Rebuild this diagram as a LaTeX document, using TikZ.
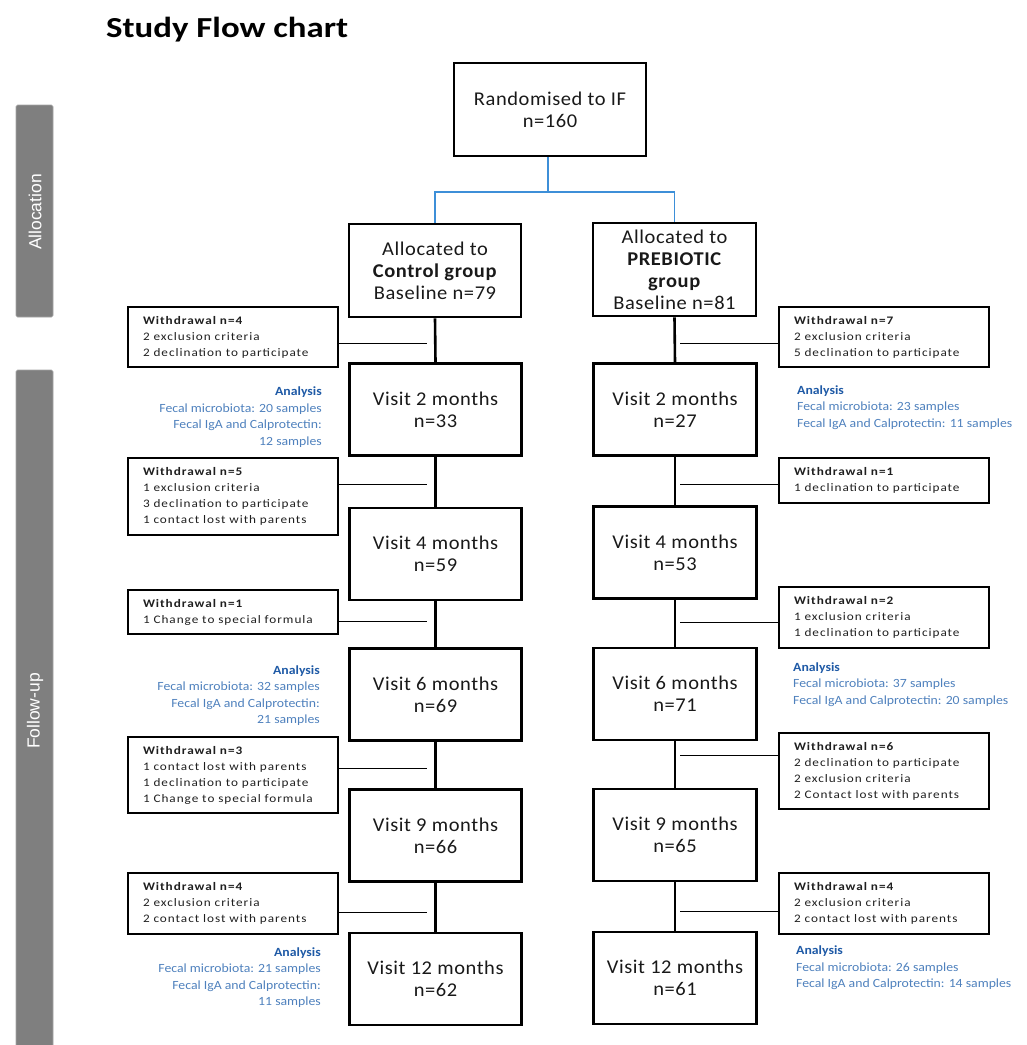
\documentclass[tikz,border=0pt]{standalone}
\usepackage{fontspec}
\setmainfont{Carlito}
\newfontfamily\titlefont[FakeStretch=1.2]{Carlito}
\newfontfamily\wfont[FakeStretch=1.15,LetterSpace=8.5]{Carlito}
\newfontfamily\mfont[FakeStretch=1.05,LetterSpace=3]{Carlito}
\newfontfamily\afont[FakeStretch=1.1]{Carlito}
\newfontfamily\sidefont{Liberation Sans}
\definecolor{sidegray}{HTML}{7F7F7F}
\definecolor{anahead}{HTML}{1F5AA6}
\definecolor{anabody}{HTML}{4F81BD}
\definecolor{linkblue}{HTML}{3D8FD8}
\begin{document}
\begin{tikzpicture}[x=1pt,y=-1pt,
  mainbox/.style={draw=black, line width=2.6pt, align=center, inner sep=0pt,
    font=\mfont\fontsize{19.5}{22}\selectfont, text=black!90},
  visitc/.style={mainbox, minimum width=172pt, minimum height=92pt},
  visitp/.style={mainbox, minimum width=163pt, minimum height=92pt},
  wbox/.style={draw=black, line width=1.1pt, align=left, inner xsep=0pt, inner ysep=0pt,
    minimum width=210pt, text width=180pt,
    font=\wfont\fontsize{11.5}{16}\selectfont, text=black!88},
  anac/.style={align=right, anchor=east, inner sep=0pt, text=anabody,
    font=\afont\fontsize{12.5}{16.5}\selectfont},
  anap/.style={align=left, anchor=west, inner sep=0pt, text=anabody,
    font=\afont\fontsize{12.5}{16.5}\selectfont},
  sidebar/.style={fill=sidegray, draw=sidegray!70, line width=0.6pt, rounded corners=1.5pt},
  sidetext/.style={text=white, rotate=90, font=\sidefont\fontsize{17.5}{20}\selectfont},
  trunk/.style={line width=2.6pt, black},
  twig/.style={line width=0.9pt, black},
  bluelink/.style={line width=1.3pt, linkblue}
]
\useasboundingbox (0,0) rectangle (1027,1045);

% title
\node[anchor=base west, inner sep=0pt, font=\titlefont\bfseries\fontsize{29}{34}\selectfont] (title) at (106,37) {Study Flow chart};

% side bars
\draw[sidebar] (16,105) rectangle (53,317);
\node[sidetext] (alloc) at (35,212) {Allocation};
\draw[sidebar] (16,370) rectangle (53,1050);
\node[sidetext] (follow) at (35,711) {Follow-up};

% top
\node[mainbox, minimum width=192pt, minimum height=93pt] (rand) at (550,109.5) {Randomised to IF\\n=160};
\node[mainbox, minimum width=172pt, minimum height=93pt] (ctrl) at (435,270.5) {Allocated to\\\textbf{Control group}\\Baseline n=79};
\node[mainbox, minimum width=163pt, minimum height=93pt] (preb) at (674.5,269.5) {Allocated to\\\textbf{PREBIOTIC}\\\textbf{group}\\Baseline n=81};

\coordinate (split) at (548,192);
\draw[bluelink] (rand.south -| split) -- (split) -| (ctrl.north);
\draw[bluelink] (split) -| (preb.north);

% control visits
\node[visitc] (cv2) at (435.5,409.5) {Visit 2 months\\n=33};
\node[visitc] (cv4) at (435.5,554) {Visit 4 months\\n=59};
\node[visitc] (cv6) at (435.5,694.5) {Visit 6 months\\n=69};
\node[visitc] (cv9) at (435.5,835.5) {Visit 9 months\\n=66};
\node[visitc] (cv12) at (435.5,979) {Visit 12 months\\n=62};

% prebiotic visits
\node[visitp] (pv2) at (675,409.5) {Visit 2 months\\n=27};
\node[visitp] (pv4) at (675,552.5) {Visit 4 months\\n=53};
\node[visitp] (pv6) at (675,694) {Visit 6 months\\n=71};
\node[visitp] (pv9) at (675,835) {Visit 9 months\\n=65};
\node[visitp] (pv12) at (675,978) {Visit 12 months\\n=61};

% trunks
\draw[trunk] (ctrl.south) -- (cv2.north);
\draw[trunk] (cv2.south) -- (cv4.north);
\draw[trunk] (cv4.south) -- (cv6.north);
\draw[trunk] (cv6.south) -- (cv9.north);
\draw[trunk] (cv9.south) -- (cv12.north);
\draw[trunk] (preb.south) -- (pv2.north);
\draw[trunk] (pv2.south) -- (pv4.north);
\draw[trunk] (pv4.south) -- (pv6.north);
\draw[trunk] (pv6.south) -- (pv9.north);
\draw[trunk] (pv9.south) -- (pv12.north);

% control withdrawals
\node[wbox, minimum height=60pt] (cw1) at (233,337) {\textbf{Withdrawal n=4}\\2 exclusion criteria\\2 declination to participate};
\node[wbox, minimum height=77pt] (cw2) at (233,496.5) {\textbf{Withdrawal n=5}\\1 exclusion criteria\\3 declination to participate\\1 contact lost with parents};
\node[wbox, minimum height=44pt] (cw3) at (233,612) {\textbf{Withdrawal n=1}\\1 Change to special formula};
\node[wbox, minimum height=76pt] (cw4) at (233,775) {\textbf{Withdrawal n=3}\\1 contact lost with parents\\1 declination to participate\\1 Change to special formula};
\node[wbox, minimum height=61pt] (cw5) at (233,903.5) {\textbf{Withdrawal n=4}\\2 exclusion criteria\\2 contact lost with parents};

% prebiotic withdrawals
\node[wbox, minimum height=60pt] (pw1) at (884,337) {\textbf{Withdrawal n=7}\\2 exclusion criteria\\5 declination to participate};
\node[wbox, minimum height=45pt] (pw2) at (884,480.5) {\textbf{Withdrawal n=1}\\1 declination to participate};
\node[wbox, minimum height=61pt] (pw3) at (884,617.5) {\textbf{Withdrawal n=2}\\1 exclusion criteria\\1 declination to participate};
\node[wbox, minimum height=76pt] (pw4) at (884,771) {\textbf{Withdrawal n=6}\\2 declination to participate\\2 exclusion criteria\\2 Contact lost with parents};
\node[wbox, minimum height=61pt] (pw5) at (884,903.5) {\textbf{Withdrawal n=4}\\2 exclusion criteria\\2 contact lost with parents};

% twig ends
\coordinate (cj1) at (427,343);
\coordinate (cj2) at (427,484);
\coordinate (cj3) at (427,621);
\coordinate (cj4) at (427,768);
\coordinate (cj5) at (427,912);
\coordinate (pj1) at (680,343);
\coordinate (pj2) at (680,484);
\coordinate (pj3) at (680,622);
\coordinate (pj4) at (680,755);
\coordinate (pj5) at (680,911);
\draw[twig] (cw1.east |- cj1) -- (cj1);
\draw[twig] (cw2.east |- cj2) -- (cj2);
\draw[twig] (cw3.east |- cj3) -- (cj3);
\draw[twig] (cw4.east |- cj4) -- (cj4);
\draw[twig] (cw5.east |- cj5) -- (cj5);
\draw[twig] (pw1.west |- pj1) -- (pj1);
\draw[twig] (pw2.west |- pj2) -- (pj2);
\draw[twig] (pw3.west |- pj3) -- (pj3);
\draw[twig] (pw4.west |- pj4) -- (pj4);
\draw[twig] (pw5.west |- pj5) -- (pj5);

% analyses
\node[anac] (ca1) at (322,417) {\textcolor{anahead}{\textbf{Analysis}}\\Fecal microbiota: 20 samples\\Fecal IgA and Calprotectin:\\12 samples};
\node[anac] (ca2) at (320,695.5) {\textcolor{anahead}{\textbf{Analysis}}\\Fecal microbiota: 32 samples\\Fecal IgA and Calprotectin:\\21 samples};
\node[anac] (ca3) at (321,977.5) {\textcolor{anahead}{\textbf{Analysis}}\\Fecal microbiota: 21 samples\\Fecal IgA and Calprotectin:\\11 samples};
\node[anap] (pa1) at (797,407.5) {\textcolor{anahead}{\textbf{Analysis}}\\Fecal microbiota: 23 samples\\Fecal IgA and Calprotectin: 11 samples};
\node[anap] (pa2) at (793,684.5) {\textcolor{anahead}{\textbf{Analysis}}\\Fecal microbiota: 37 samples\\Fecal IgA and Calprotectin: 20 samples};
\node[anap] (pa3) at (796,968) {\textcolor{anahead}{\textbf{Analysis}}\\Fecal microbiota: 26 samples\\Fecal IgA and Calprotectin: 14 samples};
\end{tikzpicture}
\end{document}
